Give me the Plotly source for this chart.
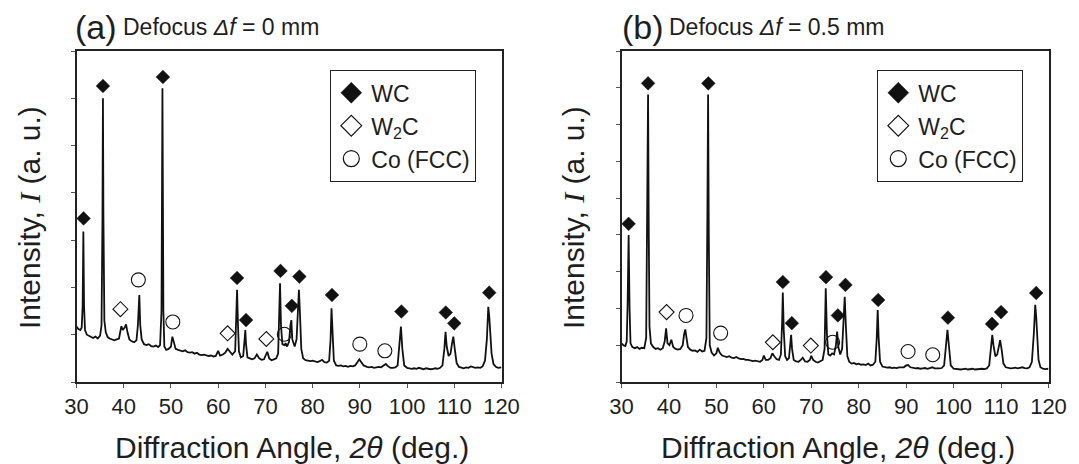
import plotly.graph_objects as go

# ---------------- data ----------------
# intensity in arbitrary units (one y tick = 1 a.u.)
left_pattern = [
    [30.0, 1.17], [30.4, 1.12], [30.8, 1.10], [31.1, 1.15], [31.3, 1.6], [31.45, 3.18], [31.6, 1.6],
    [31.8, 1.1], [32.2, 1.0], [32.6, 0.98], [33.0, 0.95], [33.5, 0.93], [34.0, 0.96], [34.5, 0.92],
    [35.0, 0.98], [35.3, 1.2], [35.5, 3.5], [35.6, 6.0], [35.7, 3.5], [35.9, 1.3], [36.2, 1.05],
    [36.6, 0.95], [37.0, 0.92], [37.5, 0.90], [38.0, 0.88], [38.5, 0.9], [39.0, 0.92], [39.5, 1.18],
    [39.8, 1.1], [40.2, 1.15], [40.5, 1.22], [40.8, 1.05], [41.2, 0.9], [41.7, 0.86], [42.2, 0.84],
    [42.7, 0.88], [43.0, 1.2], [43.3, 1.84], [43.5, 1.2], [43.8, 0.9], [44.3, 0.8], [44.8, 0.78],
    [45.3, 0.8], [45.8, 0.76], [46.3, 0.75], [46.8, 0.77], [47.3, 0.74], [47.7, 0.78], [48.0, 1.5],
    [48.2, 6.21], [48.4, 1.5], [48.6, 0.75], [49.0, 0.68], [49.5, 0.7], [50.0, 0.75], [50.3, 0.96],
    [50.6, 0.85], [51.0, 0.7], [51.5, 0.68], [52.0, 0.66], [52.5, 0.65], [53.0, 0.67], [53.5, 0.63],
    [54.0, 0.62], [54.5, 0.63], [55.0, 0.6], [55.5, 0.62], [56.0, 0.58], [56.5, 0.57], [57.0, 0.58],
    [57.5, 0.56], [58.0, 0.55], [58.5, 0.56], [59.0, 0.54], [59.5, 0.55], [60.0, 0.66], [60.4, 0.56],
    [61.0, 0.58], [61.5, 0.62], [62.0, 0.7], [62.5, 0.64], [63.0, 0.58], [63.6, 0.65], [63.8, 1.2],
    [64.0, 1.95], [64.2, 1.2], [64.4, 0.65], [64.8, 0.52], [65.3, 0.55], [65.6, 0.9], [65.75, 1.1],
    [65.9, 0.8], [66.2, 0.52], [66.7, 0.5], [67.2, 0.48], [67.7, 0.5], [68.2, 0.58], [68.7, 0.5],
    [69.2, 0.47], [69.7, 0.48], [70.1, 0.6], [70.4, 0.64], [70.8, 0.5], [71.3, 0.46], [71.8, 0.48],
    [72.3, 0.5], [72.7, 0.6], [72.9, 1.3], [73.1, 2.09], [73.3, 1.2], [73.6, 0.8], [74.0, 0.78],
    [74.3, 0.82], [74.6, 0.75], [75.0, 0.85], [75.3, 1.2], [75.5, 1.31], [75.7, 0.9], [76.2, 0.75],
    [76.6, 0.9], [76.9, 1.6], [77.1, 1.95], [77.3, 1.5], [77.6, 0.7], [78.0, 0.5], [78.5, 0.46],
    [79.0, 0.45], [79.5, 0.44], [80.0, 0.45], [80.5, 0.43], [81.0, 0.42], [81.5, 0.44], [82.0, 0.47],
    [82.5, 0.42], [83.0, 0.41], [83.5, 0.45], [83.8, 0.9], [84.0, 1.56], [84.2, 0.95], [84.5, 0.45],
    [85.0, 0.35], [85.5, 0.34], [86.0, 0.35], [86.5, 0.33], [87.0, 0.34], [87.5, 0.32], [88.0, 0.34],
    [88.5, 0.33], [89.0, 0.35], [89.5, 0.42], [89.9, 0.48], [90.3, 0.42], [90.8, 0.35], [91.5, 0.32],
    [92.0, 0.31], [92.5, 0.32], [93.0, 0.3], [93.5, 0.31], [94.0, 0.32], [94.5, 0.31], [95.0, 0.34],
    [95.5, 0.38], [96.0, 0.33], [96.5, 0.3], [97.0, 0.3], [97.5, 0.31], [98.0, 0.35], [98.4, 0.75],
    [98.7, 1.17], [99.0, 0.7], [99.4, 0.35], [100.0, 0.3], [100.5, 0.29], [101.0, 0.28], [101.5, 0.29],
    [102.0, 0.28], [102.5, 0.3], [103.0, 0.28], [103.5, 0.27], [104.0, 0.29], [104.5, 0.28],
    [105.0, 0.27], [105.5, 0.28], [106.0, 0.29], [106.5, 0.28], [107.0, 0.3], [107.5, 0.35],
    [107.9, 0.7], [108.15, 1.06], [108.4, 0.75], [108.8, 0.55], [109.2, 0.6], [109.5, 0.8],
    [109.8, 0.96], [110.1, 0.7], [110.5, 0.4], [111.0, 0.32], [111.5, 0.3], [112.0, 0.29],
    [112.5, 0.31], [113.0, 0.3], [113.5, 0.33], [114.0, 0.32], [114.5, 0.3], [115.0, 0.31],
    [115.5, 0.3], [116.0, 0.33], [116.5, 0.45], [116.9, 0.9], [117.2, 1.59], [117.4, 1.4],
    [117.6, 1.0], [117.9, 0.6], [118.3, 0.38], [118.8, 0.32], [119.3, 0.3], [120.0, 0.31],
]

right_pattern = [
    [30.0, 1.05], [30.4, 1.0], [30.8, 0.98], [31.1, 1.1], [31.3, 2.2], [31.5, 4.0], [31.7, 2.0],
    [31.9, 1.05], [32.3, 0.95], [32.8, 0.92], [33.3, 0.95], [33.8, 0.9], [34.3, 0.93], [34.8, 0.92],
    [35.2, 1.2], [35.45, 4.5], [35.6, 7.82], [35.75, 4.0], [35.9, 1.5], [36.2, 1.05], [36.7, 0.95],
    [37.2, 0.9], [37.7, 0.92], [38.2, 0.88], [38.7, 0.92], [39.1, 1.1], [39.4, 1.46], [39.7, 1.05],
    [40.1, 1.0], [40.5, 1.15], [40.9, 0.95], [41.4, 0.9], [41.9, 0.88], [42.4, 0.9], [42.9, 1.0],
    [43.2, 1.3], [43.45, 1.43], [43.7, 1.2], [44.0, 0.95], [44.5, 0.88], [45.0, 0.85], [45.5, 0.86],
    [46.0, 0.82], [46.5, 0.88], [47.0, 0.83], [47.5, 0.85], [47.9, 1.2], [48.1, 4.5], [48.25, 7.82],
    [48.4, 4.0], [48.6, 1.0], [49.0, 0.8], [49.5, 0.72], [50.0, 0.78], [50.3, 0.93], [50.7, 0.8],
    [51.2, 0.72], [51.7, 0.7], [52.2, 0.68], [52.7, 0.7], [53.2, 0.66], [53.7, 0.65], [54.2, 0.68],
    [54.7, 0.64], [55.2, 0.62], [55.7, 0.63], [56.2, 0.6], [56.7, 0.6], [57.2, 0.58], [57.7, 0.57],
    [58.2, 0.58], [58.7, 0.56], [59.2, 0.55], [59.7, 0.6], [60.0, 0.72], [60.4, 0.6], [60.9, 0.6],
    [61.4, 0.65], [61.8, 0.78], [62.2, 0.7], [62.7, 0.62], [63.2, 0.6], [63.6, 0.75], [63.85, 1.6],
    [64.0, 2.43], [64.2, 1.4], [64.5, 0.7], [64.9, 0.6], [65.3, 0.65], [65.55, 1.0], [65.75, 1.28],
    [65.95, 0.9], [66.3, 0.6], [66.8, 0.56], [67.3, 0.55], [67.8, 0.6], [68.2, 0.66], [68.7, 0.56],
    [69.2, 0.55], [69.7, 0.6], [70.0, 0.71], [70.4, 0.6], [70.9, 0.55], [71.4, 0.53], [71.9, 0.56],
    [72.4, 0.6], [72.8, 0.9], [73.05, 2.55], [73.3, 1.3], [73.6, 0.75], [74.0, 0.72], [74.4, 0.78],
    [74.8, 0.75], [75.2, 1.0], [75.45, 1.37], [75.7, 0.95], [76.1, 0.75], [76.5, 0.9], [76.85, 1.8],
    [77.05, 2.32], [77.3, 1.5], [77.6, 0.7], [78.0, 0.55], [78.5, 0.5], [79.0, 0.52], [79.5, 0.48],
    [80.0, 0.5], [80.5, 0.47], [81.0, 0.48], [81.5, 0.46], [82.0, 0.5], [82.5, 0.45], [83.0, 0.47],
    [83.5, 0.55], [83.8, 1.2], [84.0, 1.96], [84.2, 1.2], [84.5, 0.55], [85.0, 0.42], [85.5, 0.4],
    [86.0, 0.39], [86.5, 0.4], [87.0, 0.38], [87.5, 0.39], [88.0, 0.38], [88.5, 0.4], [89.0, 0.39],
    [89.5, 0.4], [90.0, 0.45], [90.4, 0.46], [90.9, 0.4], [91.5, 0.38], [92.0, 0.37], [92.5, 0.38],
    [93.0, 0.36], [93.5, 0.37], [94.0, 0.38], [94.5, 0.36], [95.0, 0.38], [95.5, 0.4], [96.0, 0.37],
    [96.5, 0.36], [97.0, 0.37], [97.5, 0.38], [98.0, 0.45], [98.4, 1.0], [98.7, 1.42], [99.0, 1.0],
    [99.4, 0.45], [100.0, 0.36], [100.5, 0.35], [101.0, 0.36], [101.5, 0.34], [102.0, 0.35],
    [102.5, 0.36], [103.0, 0.34], [103.5, 0.35], [104.0, 0.36], [104.5, 0.34], [105.0, 0.35],
    [105.5, 0.34], [106.0, 0.36], [106.5, 0.35], [107.0, 0.37], [107.5, 0.45], [107.9, 1.0],
    [108.15, 1.28], [108.4, 1.0], [108.8, 0.7], [109.2, 0.75], [109.5, 1.0], [109.8, 1.14],
    [110.1, 0.9], [110.5, 0.5], [111.0, 0.4], [111.5, 0.38], [112.0, 0.37], [112.5, 0.38],
    [113.0, 0.39], [113.5, 0.37], [114.0, 0.38], [114.5, 0.4], [115.0, 0.38], [115.5, 0.37],
    [116.0, 0.4], [116.5, 0.55], [116.9, 1.3], [117.2, 2.1], [117.4, 1.8], [117.6, 1.2],
    [117.9, 0.6], [118.3, 0.4], [118.8, 0.36], [119.3, 0.35], [120.0, 0.36],
]

# phase identification markers (angle, marker height)
wc_left_x = [31.5, 35.6, 48.3, 64.0, 65.9, 73.2, 75.6, 77.2, 84.1, 98.8, 108.2, 110.0, 117.4]
wc_left_y = [3.46, 6.26, 6.45, 2.20, 1.31, 2.35, 1.61, 2.23, 1.84, 1.49, 1.47, 1.24, 1.89]
w2c_left_x = [39.3, 62.0, 70.2]
w2c_left_y = [1.54, 1.03, 0.91]
co_left_x = [43.1, 50.4, 74.0, 90.0, 95.3]
co_left_y = [2.16, 1.27, 1.01, 0.80, 0.66]

wc_right_x = [31.5, 35.6, 48.3, 64.0, 65.9, 73.1, 75.6, 77.2, 84.1, 98.8, 108.1, 110.0, 117.4]
wc_right_y = [4.30, 8.12, 8.12, 2.72, 1.60, 2.85, 1.81, 2.64, 2.23, 1.75, 1.58, 1.90, 2.42]
w2c_right_x = [39.5, 61.9, 69.9]
w2c_right_y = [1.90, 1.08, 0.99]
co_right_x = [43.6, 50.9, 74.5, 90.4, 95.6]
co_right_y = [1.81, 1.33, 1.08, 0.83, 0.74]

x_ticks = [30, 40, 50, 60, 70, 80, 90, 100, 110, 120]
panel_labels = ["(a)", "(b)"]
panel_titles = ["Defocus <i>Δf</i> = 0 mm", "Defocus <i>Δf</i> = 0.5 mm"]
legend_names = ["WC", "W<sub>2</sub>C", "Co (FCC)"]

# ---------------- figure ----------------
W, H = 1079, 464
FONT = "Liberation Sans, Arial, sans-serif"
INK = "#1e1e1e"

def px(x):
    return x / W

def py(y):
    return 1 - y / H

fig = go.Figure()

panels = [
    dict(pattern=left_pattern, xa="x", ya="y", legend="legend",
         wc=(wc_left_x, wc_left_y), w2c=(w2c_left_x, w2c_left_y), co=(co_left_x, co_left_y)),
    dict(pattern=right_pattern, xa="x2", ya="y2", legend="legend2",
         wc=(wc_right_x, wc_right_y), w2c=(w2c_right_x, w2c_right_y), co=(co_right_x, co_right_y)),
]

for p in panels:
    xs = [a for a, b in p["pattern"]]
    ys = [b for a, b in p["pattern"]]
    fig.add_trace(go.Scatter(x=xs, y=ys, mode="lines", line=dict(color="#111111", width=1.8),
                             xaxis=p["xa"], yaxis=p["ya"], showlegend=False, hoverinfo="skip"))
    fig.add_trace(go.Scatter(x=p["wc"][0], y=p["wc"][1], mode="markers", xaxis=p["xa"], yaxis=p["ya"],
                             marker=dict(symbol="diamond", size=10.5, color="#111111",
                                         line=dict(color="#111111", width=0.5)),
                             showlegend=False))
    fig.add_trace(go.Scatter(x=p["w2c"][0], y=p["w2c"][1], mode="markers", xaxis=p["xa"], yaxis=p["ya"],
                             marker=dict(symbol="diamond-open", size=11.5, color="#111111",
                                         line=dict(color="#111111", width=1.1)),
                             showlegend=False))
    fig.add_trace(go.Scatter(x=p["co"][0], y=p["co"][1], mode="markers", xaxis=p["xa"], yaxis=p["ya"],
                             marker=dict(symbol="circle-open", size=14, color="#111111",
                                         line=dict(color="#111111", width=1.1)),
                             showlegend=False))
    # legend entries
    legend_styles = [
        dict(symbol="diamond", size=16, color="#111111", line=dict(color="#111111", width=0.5)),
        dict(symbol="diamond-open", size=16, color="#111111", line=dict(color="#111111", width=1.2)),
        dict(symbol="circle-open", size=16, color="#111111", line=dict(color="#111111", width=1.2)),
    ]
    for name, st in zip(legend_names, legend_styles):
        fig.add_trace(go.Scatter(x=[None], y=[None], mode="markers", name=name, marker=st,
                                 xaxis=p["xa"], yaxis=p["ya"], legend=p["legend"], showlegend=True))

ydom = [py(382), py(51)]
axis_common = dict(showgrid=False, zeroline=False, showline=True, mirror=True,
                   linecolor="#222222", linewidth=1.5, ticks="outside", ticklen=4,
                   tickcolor="#555555", tickwidth=1, automargin=False)

fig.update_layout(
    width=W, height=H, autosize=False,
    margin=dict(l=0, r=0, t=0, b=0, autoexpand=False),
    paper_bgcolor="white", plot_bgcolor="white",
    font=dict(family=FONT, color=INK),
    xaxis=dict(domain=[px(76.5), px(501.5)], range=[30, 120], tickvals=x_ticks,
               tickfont=dict(size=22, family=FONT, color=INK), anchor="y", **axis_common),
    yaxis=dict(domain=ydom, range=[0, 7], dtick=1, showticklabels=False, anchor="x", **axis_common),
    xaxis2=dict(domain=[px(621.5), px(1048.5)], range=[30, 120], tickvals=x_ticks,
                tickfont=dict(size=22, family=FONT, color=INK), anchor="y2", **axis_common),
    yaxis2=dict(domain=ydom, range=[0, 9], dtick=1, showticklabels=False, anchor="x2", **axis_common),
    legend=dict(x=px(330), y=py(70), xanchor="left", yanchor="top",
                bordercolor="#222222", borderwidth=1.3, bgcolor="white",
                font=dict(size=23, family=FONT, color=INK), itemsizing="trace", tracegroupgap=0),
    legend2=dict(x=px(877), y=py(70), xanchor="left", yanchor="top",
                 bordercolor="#222222", borderwidth=1.3, bgcolor="white",
                 font=dict(size=23, family=FONT, color=INK), itemsizing="trace", tracegroupgap=0),
)

serif_I = "<span style='font-family:Liberation Serif, Times New Roman, serif'><i>I</i></span>"
ytitle = "Intensity, " + serif_I + " (a. u.)"
xtitle = "Diffraction Angle, <i>2θ</i> (deg.)"

ann = []
label_x = [73, 620]
title_x = [121, 667]
ytitle_x = [29, 573]
xtitle_x = [292, 838]
for i in range(2):
    ann.append(dict(text=panel_labels[i], x=px(label_x[i]), y=py(27), xref="paper", yref="paper",
                    xanchor="left", yanchor="middle", showarrow=False,
                    font=dict(size=34, family=FONT, color=INK)))
    ann.append(dict(text=panel_titles[i], x=px(title_x[i]), y=py(27), xref="paper", yref="paper",
                    xanchor="left", yanchor="middle", showarrow=False,
                    font=dict(size=23, family=FONT, color=INK)))
    ann.append(dict(text=ytitle, x=px(ytitle_x[i]), y=py(218), xref="paper", yref="paper",
                    xanchor="center", yanchor="middle", textangle=-90, showarrow=False,
                    font=dict(size=30, family=FONT, color=INK)))
    ann.append(dict(text=xtitle, x=px(xtitle_x[i]), y=py(447), xref="paper", yref="paper",
                    xanchor="center", yanchor="middle", showarrow=False,
                    font=dict(size=30, family=FONT, color=INK)))
fig.update_layout(annotations=ann)

fig.write_html(
    "out.html",
    config={"responsive": False, "displayModeBar": False},
    post_script="document.body.style.margin='0';document.body.style.padding='0';"
                "document.body.style.overflow='hidden';",
)
